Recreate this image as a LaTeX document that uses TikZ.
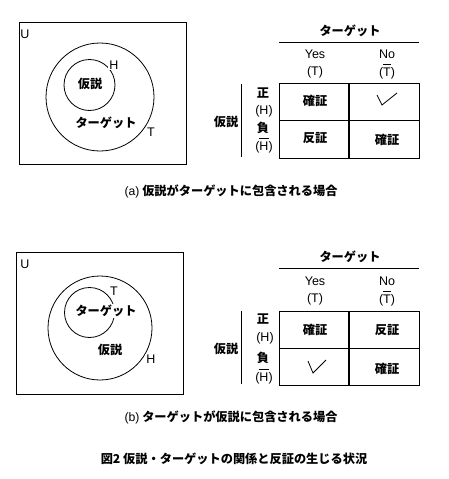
\documentclass[tikz,border=0pt]{standalone}
\usepackage{fontspec}
\setmainfont{Liberation Sans}
\newfontfamily\jp{Noto Sans CJK JP}
\newcommand\myovl[1]{\leavevmode\vbox{\hrule height 0.8pt\kern2.2pt\hbox{#1}}}
\newcommand\latreg[1]{{\rmfamily\mdseries #1}}
\begin{document}
\begin{tikzpicture}[x=1pt,y=-1pt,
  lat/.style={font=\fontsize{12.5}{14}\selectfont, inner sep=1pt},
  jpt/.style={font=\fontsize{12.2}{14}\selectfont\jp\bfseries, inner sep=1pt},
  wjp/.style={jpt, fill=white},
  wlat/.style={lat, fill=white},
  thin/.style={line width=0.8pt},
  thick2/.style={line width=1.6pt}]
\useasboundingbox (0,0) rectangle (448,479);
% ---------- panel (a) ----------
\draw[thin] (19,22) rectangle (186,164);
\draw[thin] (100,97) circle[radius=54];
\draw[thin] (89.5,85) circle[radius=25.5];
\node[lat] (aU) at (25,34) {U};
\node[wlat] (aH) at (114,65) {H};
\node[jpt] (ahyp) at (90,84) {仮説};
\node[wjp] (atgt) at (106,123) {ターゲット};
\node[wlat] (aT) at (151,132) {T};
% table (a)
\node[jpt] (ahead) at (350,31) {ターゲット};
\coordinate (ahl) at (279,42); \coordinate (ahr) at (419,42);
\draw[thin] (ahl) -- (ahr);
\node[lat] (ayes) at (315,54) {Yes};
\node[lat] (ano) at (387,54) {No};
\node[lat] (aTp) at (315,72) {(T)};
\node[lat, anchor=base] (aTn) at (387,76) {(\myovl{T})};
\draw[thin] (279,83) rectangle (419,158);
\draw[thin] (279,120) -- (419,120);
\draw[thick2] (349,83) -- (349,158);
\draw[thin] (241,84) -- (241,157);
\node[jpt] (ahyl) at (226,122) {仮説};
\node[jpt] (apos) at (263,93) {正};
\node[lat] (aHp) at (264,111) {(H)};
\node[jpt] (aneg) at (263,128) {負};
\node[lat, anchor=base] (aHn) at (264,150) {(\myovl{H})};
\node[jpt] (ac11) at (315,101) {確証};
\node[jpt] (ac21) at (315,138) {反証};
\node[jpt] (ac22) at (387,140) {確証};
\draw[thin] (377,95) -- (382,105) -- (397,93);
\node[jpt] (acap) at (231,191) {\latreg{(a)} 仮説がターゲットに包含される場合};
% ---------- panel (b) ----------
\draw[thin] (16,252) rectangle (183,394);
\draw[thin] (100,328) circle[radius=52];
\draw[thin] (89.5,312.5) circle[radius=25];
\node[lat] (bU) at (25,264) {U};
\node[wlat] (bT) at (114,291) {T};
\node[wjp] (btgt) at (106,311) {ターゲット};
\node[jpt] (bhyp) at (110,350) {仮説};
\node[wlat] (bH) at (151,359) {H};
% table (b)
\node[jpt] (bhead) at (350,257) {ターゲット};
\coordinate (bhl) at (279,268); \coordinate (bhr) at (419,268);
\draw[thin] (bhl) -- (bhr);
\node[lat] (byes) at (315,281) {Yes};
\node[lat] (bno) at (387,281) {No};
\node[lat] (bTp) at (315,299) {(T)};
\node[lat, anchor=base] (bTn) at (387,303) {(\myovl{T})};
\draw[thin] (279,311) rectangle (419,385);
\draw[thin] (279,348) -- (419,348);
\draw[thick2] (349,311) -- (349,385);
\draw[thin] (241,311) -- (241,384);
\node[jpt] (bhyl) at (226,349) {仮説};
\node[jpt] (bpos) at (263,319) {正};
\node[lat] (bHp) at (265,338) {(H)};
\node[jpt] (bneg) at (263,358) {負};
\node[lat, anchor=base] (bHn) at (264,381) {(\myovl{H})};
\node[jpt] (bc11) at (315,330) {確証};
\node[jpt] (bc12) at (387,330) {反証};
\node[jpt] (bc22) at (387,369) {確証};
\draw[thin] (308,361) -- (313,373) -- (326,360);
\node[jpt] (bcap) at (231,417) {\latreg{(b)} ターゲットが仮説に包含される場合};
\node[jpt] (fig) at (234,459) {図2 仮説・ターゲットの関係と反証の生じる状況};
\end{tikzpicture}
\end{document}
